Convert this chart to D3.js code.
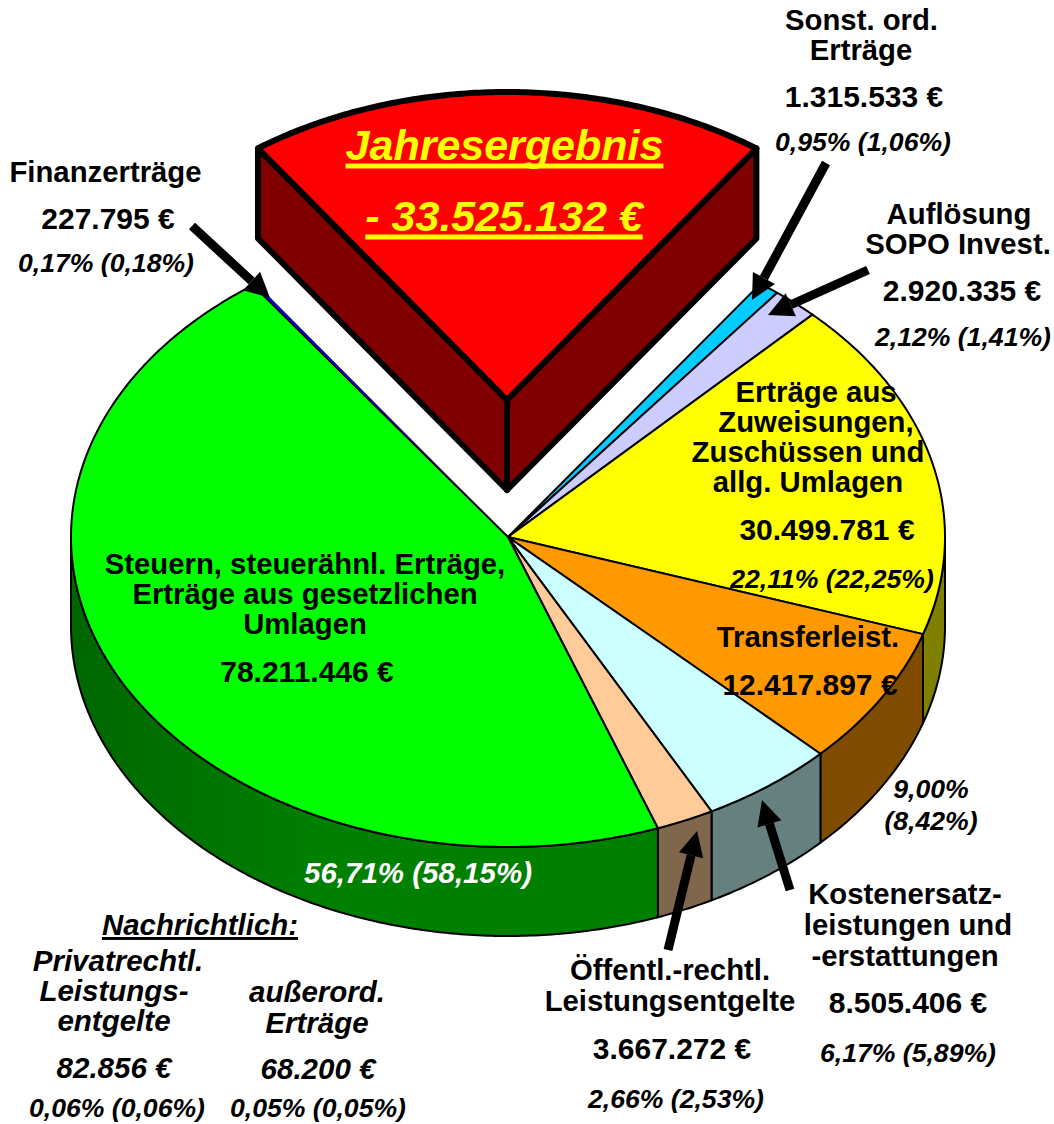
<!DOCTYPE html>
<html>
<head>
<meta charset="utf-8">
<script src="https://cdn.jsdelivr.net/npm/d3@7"></script>
<style>
  html, body { margin: 0; padding: 0; background: #fff; }
  text { font-family: "Liberation Sans", Arial, sans-serif; font-weight: bold; text-anchor: middle; }
</style>
</head>
<body>
<div class="svg-target"></div>
<script>
// Data
const names = ['Jahresergebnis', 'Sonst. ord. Erträge', 'Auflösung SOPO Invest.', 'Zuweisungen', 'Transferleist.',
    'Kostenersatz', 'Öffentl.-rechtl.', 'Steuern', 'Finanzerträge'];
const values = [33525132, 1315533, 2920335, 30499781, 12417897, 8505406, 3667272, 78211446, 227795];
const colors = ['#ff0000', '#00ccff', '#ccccff', '#ffff00', '#ff9900', '#ccffff', '#ffcc99', '#00ff00', '#0000dd'];

const w = 1054;
const h = 1124;
const cx = 508;
const cy = 537;
const rx = 437;
const ry = 310;
const depth = 89;
const redCx = 507;
const redCy = 400;
const redRx = 432;
const redRy = 308;
const redDepth = 90;

// Text blocks: x, baseline y, text, kind
// b bold, a bold amount, i bold italic, p percent, w white italic, u underlined
const labels = [
    [861.5, 30, 'Sonst. ord.', 'b'], [861, 60, 'Erträge', 'b'], [864, 107, '1.315.533 €', 'a'], [863, 151, '0,95% (1,06%)', 'p'],
    [105.5, 182, 'Finanzerträge', 'b'], [108, 229, '227.795 €', 'a'], [106, 272, '0,17% (0,18%)', 'p'],
    [959, 224, 'Auflösung', 'b'], [958, 254, 'SOPO Invest.', 'b'], [962, 301, '2.920.335 €', 'a'], [963, 346, '2,12% (1,41%)', 'p'],
    [816, 402, 'Erträge aus', 'b'], [816, 432, 'Zuweisungen,', 'b'], [808, 462, 'Zuschüssen und', 'b'], [808, 492, 'allg. Umlagen', 'b'],
    [827, 540, '30.499.781 €', 'a'], [832, 588, '22,11% (22,25%)', 'p'],
    [808, 647, 'Transferleist.', 'b'], [810, 695, '12.417.897 €', 'a'],
    [931, 798, '9,00%', 'p'], [931, 830, '(8,42%)', 'p'],
    [905, 904, 'Kostenersatz-', 'b'], [908, 935, 'leistungen und', 'b'], [905, 966, '-erstattungen', 'b'],
    [908, 1013, '8.505.406 €', 'a'], [908, 1062, '6,17% (5,89%)', 'p'],
    [670, 980, 'Öffentl.-rechtl.', 'b'], [670, 1011, 'Leistungsentgelte', 'b'], [672, 1059, '3.667.272 €', 'a'], [676, 1108, '2,66% (2,53%)', 'p'],
    [305, 574, 'Steuern, steuerähnl. Erträge,', 'b'], [305, 604, 'Erträge aus gesetzlichen', 'b'], [305, 634, 'Umlagen', 'b'], [307, 682, '78.211.446 €', 'a'],
    [418, 883, '56,71% (58,15%)', 'w'],
    [200, 935, 'Nachrichtlich:', 'u'],
    [118, 971, 'Privatrechtl.', 'i'], [114, 1001, 'Leistungs-', 'i'], [114, 1031, 'entgelte', 'i'], [114, 1078, '82.856 €', 'i'], [117, 1117, '0,06% (0,06%)', 'p'],
    [317, 1002, 'außerord.', 'i'], [317, 1033, 'Erträge', 'i'], [318, 1079, '68.200 €', 'i'], [318, 1117, '0,05% (0,05%)', 'p']
];
const fontSizes = { b: 29.3, a: 30, i: 29.5, p: 26.6, w: 29.5, u: 29.4 };

// Arrows: from x, from y, tip x, tip y
const arrows = [
    [192, 226, 270, 298],
    [826, 163, 752, 300],
    [868, 270, 768, 315],
    [790, 890, 762, 800],
    [668, 950, 697, 831]
];

const svg = d3.select('.svg-target')
    .append('svg')
    .attr('width', w)
    .attr('height', h)
    .style('display', 'block');

// Left part of the green wall is a bit darker
const grad = svg.append('defs').append('linearGradient')
    .attr('id', 'greenWall')
    .attr('gradientUnits', 'userSpaceOnUse')
    .attr('x1', 70).attr('x2', 330).attr('y1', 0).attr('y2', 0);
grad.append('stop').attr('offset', 0).attr('stop-color', '#006600');
grad.append('stop').attr('offset', 1).attr('stop-color', '#008000');

// Unit circle onto the tilted ellipse
const xScale = d3.scaleLinear().domain([-1, 1]).range([cx - rx, cx + rx]);
const yScale = d3.scaleLinear().domain([-1, 1]).range([cy - ry, cy + ry]);
const px = a => xScale(Math.sin(a));
const py = a => yScale(-Math.cos(a));

const slices = d3.pie()
    .sort(null)
    .value(d => d)
    .startAngle(-35.2 * Math.PI / 180)
    .endAngle((360 - 35.2) * Math.PI / 180)(values);

const line = d3.line();
const rimAngles = (a0, a1) => {
    const n = Math.max(2, Math.ceil((a1 - a0) / 0.01));
    return d3.range(n + 1).map(i => a0 + (a1 - a0) * i / n);
};
const shade = c => {
    const col = d3.rgb(c);
    return d3.rgb(col.r / 2, col.g / 2, col.b / 2).formatHex();
};

// Side walls (only the front half of the rim shows)
const rest = slices.slice(1);
rest.forEach(s => {
    const a0 = Math.max(s.startAngle, Math.PI / 2);
    const a1 = Math.min(s.endAngle, 3 * Math.PI / 2);
    if (a1 <= a0) return;
    const rim = rimAngles(a0, a1);
    const top = rim.map(a => [px(a), py(a)]);
    const bottom = rim.slice().reverse().map(a => [px(a), py(a) + depth]);
    svg.append('path')
        .attr('d', line(top.concat(bottom)) + 'Z')
        .attr('fill', s.index === 7 ? 'url(#greenWall)' : shade(colors[s.index]))
        .attr('stroke', '#000')
        .attr('stroke-width', 2)
        .attr('stroke-linejoin', 'round');
});

// Top faces
rest.forEach(s => {
    const rim = rimAngles(s.startAngle, s.endAngle).map(a => [px(a), py(a)]);
    svg.append('path')
        .attr('d', line([[cx, cy]].concat(rim)) + 'Z')
        .attr('fill', colors[s.index])
        .attr('stroke', '#000')
        .attr('stroke-width', s.index === 8 ? 0.7 : 2)
        .attr('stroke-linejoin', 'round');
});

// Pulled out wedge
const red = slices[0];
const redRim = rimAngles(red.startAngle, red.endAngle)
    .map(a => [redCx + redRx * Math.sin(a), redCy - redRy * Math.cos(a)]);
const tip = [redCx, redCy];
[redRim[0], redRim[redRim.length - 1]].forEach(p => {
    svg.append('path')
        .attr('d', line([p, [p[0], p[1] + redDepth], [tip[0], tip[1] + redDepth], tip]) + 'Z')
        .attr('fill', shade(colors[0]))
        .attr('stroke', '#000')
        .attr('stroke-width', 6)
        .attr('stroke-linejoin', 'round');
});
svg.append('path')
    .attr('d', line([tip].concat(redRim)) + 'Z')
    .attr('fill', colors[0])
    .attr('stroke', '#000')
    .attr('stroke-width', 6)
    .attr('stroke-linejoin', 'round');

// Arrows
arrows.forEach(([x0, y0, x1, y1]) => {
    const len = Math.hypot(x1 - x0, y1 - y0);
    const ux = (x1 - x0) / len;
    const uy = (y1 - y0) / len;
    const hl = 25;
    const hw = 12.5;
    const bx = x1 - ux * hl;
    const by = y1 - uy * hl;
    svg.append('line')
        .attr('x1', x0).attr('y1', y0)
        .attr('x2', bx).attr('y2', by)
        .attr('stroke', '#000')
        .attr('stroke-width', 9);
    svg.append('path')
        .attr('d', line([[x1, y1], [bx - uy * hw, by + ux * hw], [bx + uy * hw, by - ux * hw]]) + 'Z')
        .attr('fill', '#000');
});

// Labels
svg.selectAll('text.label')
    .data(labels)
    .enter()
    .append('text')
    .attr('class', 'label')
    .attr('x', d => d[0])
    .attr('y', d => d[1])
    .attr('font-size', d => fontSizes[d[3]])
    .attr('fill', d => d[3] === 'w' ? '#fff' : '#000')
    .attr('font-style', d => (d[3] === 'b' || d[3] === 'a') ? 'normal' : 'italic')
    .attr('text-decoration', d => d[3] === 'u' ? 'underline' : null)
    .text(d => d[2]);

// Title on the wedge, underline drawn by hand because it is thick
svg.selectAll('text.title')
    .data([[504.5, 160, names[0]], [504, 231, '- 33.525.132 €']])
    .enter()
    .append('text')
    .attr('class', 'title')
    .attr('x', d => d[0])
    .attr('y', d => d[1])
    .attr('font-size', 43)
    .attr('font-style', 'italic')
    .attr('fill', '#ffff00')
    .text(d => d[2])
    .each(function(d) {
        const tw = this.getComputedTextLength();
        svg.append('line')
            .attr('x1', d[0] - tw / 2)
            .attr('x2', d[0] + tw / 2)
            .attr('y1', d[1] + 6)
            .attr('y2', d[1] + 6)
            .attr('stroke', '#ffff00')
            .attr('stroke-width', 5);
    });
</script>
</body>
</html>
